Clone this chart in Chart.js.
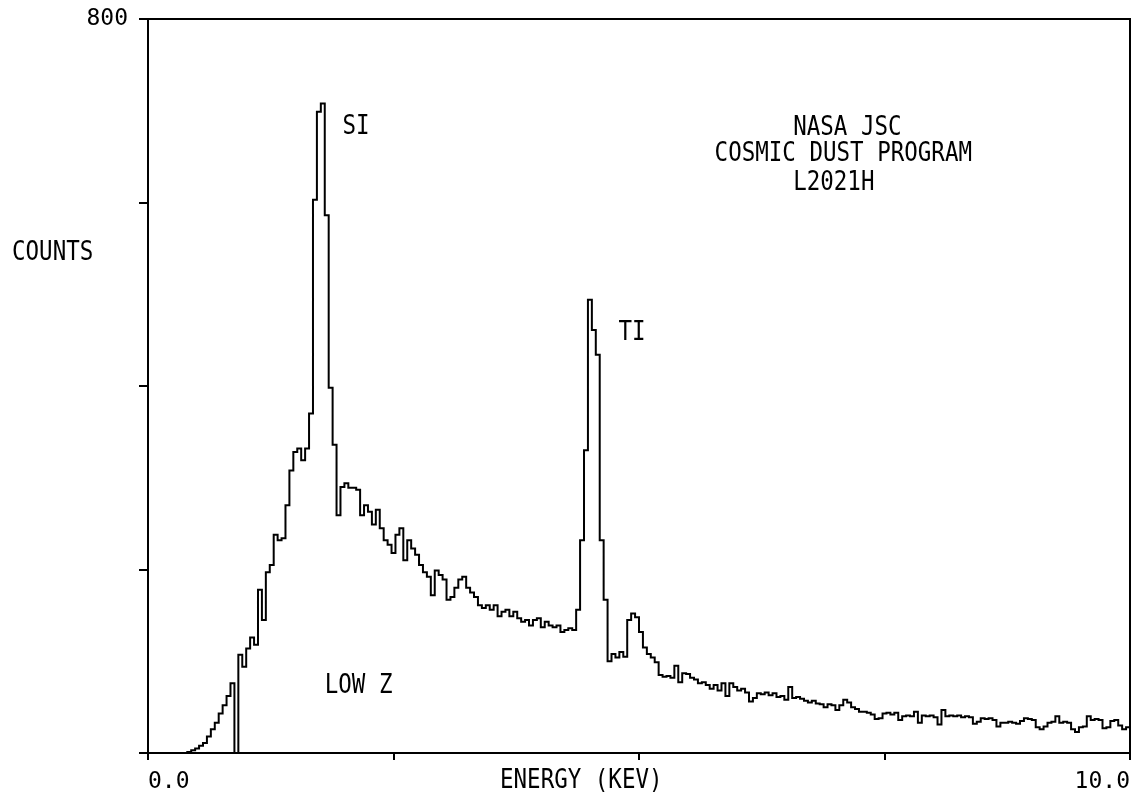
<!DOCTYPE html>
<html>
<head>
<meta charset="utf-8">
<script src="https://cdn.jsdelivr.net/npm/chart.js@4/dist/chart.umd.min.js"></script>
<style>
  html, body { margin: 0; padding: 0; background: #fff; }
  #wrap { width: 1135px; height: 804px; position: relative; }
</style>
</head>
<body>
<div id="wrap"><canvas id="c" width="1135" height="804"></canvas></div>
<script>
// ---- data ----
const CHANNEL_KEV = 0.04;           // channel width, keV
const counts = [
  0, 0, 0, 0, 0, 0, 0, 0, 0, 0,
  1, 3, 5, 8, 11, 18, 26, 33, 43, 52,
  62, 76, 0, 107, 94, 114, 126, 118, 178, 145,
  197, 205, 238, 232, 234, 270, 308, 328, 332, 319,
  332, 370, 603, 699, 708, 586, 398, 336, 259, 290,
  294, 289, 289, 287, 259, 270, 263, 249, 265, 245,
  232, 227, 218, 238, 245, 210, 232, 223, 216, 205,
  197, 192, 172, 199, 194, 189, 167, 170, 180, 189,
  192, 180, 175, 170, 161, 158, 161, 156, 161, 149,
  154, 156, 149, 154, 147, 143, 145, 139, 145, 147,
  137, 143, 139, 137, 139, 132, 134, 136, 134, 156,
  232, 330, 494, 461, 434, 232, 167, 100, 108, 104,
  110, 105, 145, 152, 148, 132, 115, 108, 104, 99,
  85, 83, 84, 82, 95, 77, 87, 86, 82, 80,
  76, 77, 74, 70, 74, 68, 76, 62, 76, 72,
  68, 70, 66, 56, 60, 65, 64, 66, 63, 65,
  61, 62, 58, 72, 60, 61, 59, 57, 55, 57,
  54, 53, 50, 53, 52, 47, 52, 58, 55, 50,
  48, 45, 45, 44, 42, 37, 38, 43, 44, 42,
  44, 36, 40, 41, 40, 45, 33, 41, 40, 41,
  39, 31, 47, 40, 41, 40, 41, 39, 40, 39,
  32, 34, 38, 37, 38, 36, 29, 33, 33, 34,
  33, 32, 35, 38, 37, 36, 28, 26, 29, 33,
  34, 40, 33, 34, 33, 26, 23, 28, 29, 40,
  36, 37, 36, 27, 28, 35, 36, 30, 26, 28
];
const ENERGY_MIN = 0, ENERGY_MAX = 10, ENERGY_STEP = 2.5;
const COUNT_MIN = 0, COUNT_MAX = 800, COUNT_STEP = 200;
const xTickLabels = { 0: '0.0', 10: '10.0' };
const yTickLabels = { 800: '800' };
const yTitle = 'COUNTS';
const xTitle = 'ENERGY (KEV)';
const peakLabels = [
  { text: 'SI',    e: 1.98, c: 682 },
  { text: 'TI',    e: 4.79, c: 458 },
  { text: 'LOW Z', e: 1.80, c: 73 }
];
const infoLines = [
  { text: 'NASA JSC',            e: 6.57, c: 681 },
  { text: 'COSMIC DUST PROGRAM', e: 5.77, c: 653 },
  { text: 'L2021H',              e: 6.57, c: 621 }
];

// ---- build points ----
const points = counts.map((v, i) => ({ x: i * CHANNEL_KEV, y: v }));
points.push({ x: ENERGY_MAX, y: counts[counts.length - 1] });

const FONT = 'DejaVu Sans Mono';
function stretchedText(ctx, text, x, y) {
  ctx.save();
  ctx.translate(x, y);
  ctx.scale(1, 1.2);
  ctx.fillText(text, 0, 0);
  ctx.restore();
}

const textPlugin = {
  id: 'texts',
  afterDraw(chart) {
    const { ctx, chartArea, scales } = chart;
    ctx.save();
    // frame top + right
    ctx.strokeStyle = '#000';
    ctx.lineWidth = 2;
    ctx.beginPath();
    ctx.moveTo(chartArea.left, chartArea.top);
    ctx.lineTo(chartArea.right, chartArea.top);
    ctx.lineTo(chartArea.right, chartArea.bottom);
    ctx.stroke();

    ctx.fillStyle = '#000';
    ctx.font = '22.5px "' + FONT + '"';
    ctx.textAlign = 'left';
    ctx.textBaseline = 'middle';
    [...peakLabels, ...infoLines].forEach(a => {
      stretchedText(ctx, a.text, scales.x.getPixelForValue(a.e), scales.y.getPixelForValue(a.c));
    });
    // axis titles
    stretchedText(ctx, yTitle, 12, scales.y.getPixelForValue(545));
    stretchedText(ctx, xTitle, 500, 781);
    ctx.restore();
  }
};

new Chart(document.getElementById('c'), {
  type: 'line',
  data: {
    datasets: [{
      data: points,
      stepped: 'before',
      borderColor: '#000',
      borderWidth: 2,
      pointRadius: 0,
      fill: false,
      tension: 0
    }]
  },
  options: {
    responsive: false,
    animation: false,
    parsing: true,
    layout: { padding: { top: 19, right: 5, left: 0, bottom: 0 } },
    plugins: { legend: { display: false }, tooltip: { enabled: false } },
    scales: {
      x: {
        type: 'linear',
        min: ENERGY_MIN, max: ENERGY_MAX,
        afterFit: s => { s.height = 51; s.paddingLeft = 0; s.paddingRight = 0; },
        grid: { display: true, drawOnChartArea: false, drawTicks: true, tickLength: 7, color: '#000', lineWidth: 2 },
        border: { display: true, color: '#000', width: 2 },
        ticks: {
          stepSize: ENERGY_STEP, autoSkip: false, maxRotation: 0, align: 'inner',
          color: '#000', padding: 8,
          font: { family: FONT, size: 23 },
          callback: v => (xTickLabels[v] !== undefined ? xTickLabels[v] : '')
        }
      },
      y: {
        min: COUNT_MIN, max: COUNT_MAX,
        afterFit: s => { s.width = 148; s.paddingTop = 0; s.paddingBottom = 0; },
        grid: { display: true, drawOnChartArea: false, drawTicks: true, tickLength: 9, color: '#000', lineWidth: 2 },
        border: { display: true, color: '#000', width: 2 },
        ticks: {
          stepSize: COUNT_STEP, autoSkip: false,
          color: '#000', padding: 11,
          font: { family: FONT, size: 23 },
          callback: v => (yTickLabels[v] !== undefined ? yTickLabels[v] : '')
        }
      }
    }
  },
  plugins: [textPlugin]
});
</script>
</body>
</html>
